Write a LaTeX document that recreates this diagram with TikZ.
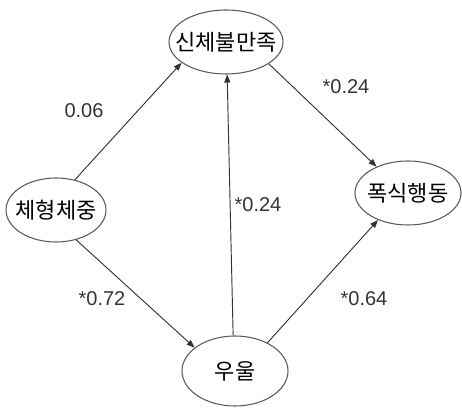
\documentclass[tikz,border=0pt]{standalone}
\usepackage{fontspec}
\setmainfont{Liberation Sans}
\newfontfamily\krfont{Noto Sans CJK KR}
\usetikzlibrary{shapes.geometric,arrows.meta}
\newcommand{\vtxt}[1]{\makebox[0pt]{#1}}
\tikzset{
  var/.style={ellipse, draw=black!65, line width=0.8pt, inner sep=0pt,
    font=\krfont\fontsize{16.5pt}{16.5pt}\selectfont},
  path/.style={draw=black!80, line width=0.7pt, -{Triangle[length=6pt,width=4.5pt]}},
  coef/.style={inner sep=0pt, text=black!80, font=\fontsize{15pt}{15pt}\selectfont}
}
\begin{document}
\begin{tikzpicture}[x=0.75pt,y=-0.75pt]
\useasboundingbox (0,0) rectangle (462,409);
\node[var, minimum width=85.5pt, minimum height=48pt] (A) at (226,42) {\vtxt{신체불만족}};
\node[var, minimum width=75pt, minimum height=48pt] (B) at (56,210) {\vtxt{체형체중}};
\node[var, minimum width=79.5pt, minimum height=48pt] (C) at (408,193) {\vtxt{폭식행동}};
\node[var, minimum width=79.5pt, minimum height=52.5pt] (D) at (235,371) {\vtxt{우울}};
\draw[path] (B.58) -- (A.205);
\draw[path] (A.-27) -- (C.140);
\draw[path] (B.-56) -- (D.150);
\draw[path] (D.93) -- (A.-88);
\draw[path] (D.41) -- (C.222);
\node[coef] (l1) at (84,111) {0.06};
\node[coef] (l2) at (346,87) {*0.24};
\node[coef] (l3) at (102,299) {*0.72};
\node[coef] (l4) at (258,205) {*0.24};
\node[coef] (l5) at (364,299) {*0.64};
\end{tikzpicture}
\end{document}
